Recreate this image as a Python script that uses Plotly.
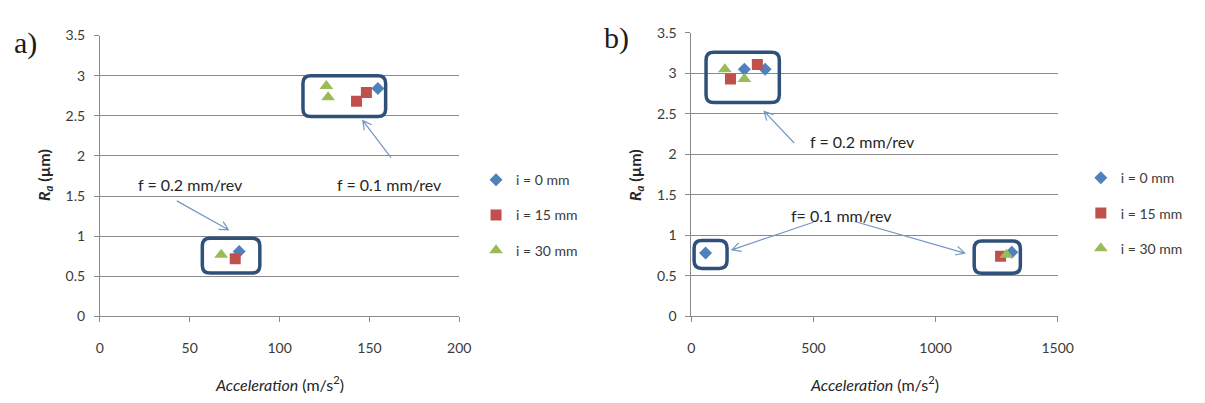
import math
import plotly.graph_objects as go

# ---------------- data ----------------
series_names = ["i = 0 mm", "i = 15 mm", "i = 30 mm"]

# (a) acceleration (m/s^2) and Ra (um)
a_acc_0 = [154.7, 77.5]
a_ra_0 = [2.84, 0.81]
a_acc_15 = [142.8, 148.3, 75.3]
a_ra_15 = [2.68, 2.79, 0.72]
a_acc_30 = [126.0, 127.0, 67.5]
a_ra_30 = [2.87, 2.73, 0.77]

# (b) acceleration (m/s^2) and Ra (um)
b_acc_0 = [217.0, 302.0, 58.0, 1312.0]
b_ra_0 = [3.05, 3.05, 0.78, 0.79]
b_acc_15 = [160.0, 270.0, 1266.0]
b_ra_15 = [2.93, 3.11, 0.74]
b_acc_30 = [137.0, 217.0, 1290.0]
b_ra_30 = [3.05, 2.93, 0.76]

x_ticks_a = [0, 50, 100, 150, 200]
x_ticks_b = [0, 500, 1000, 1500]
y_ticks = [0, 0.5, 1, 1.5, 2, 2.5, 3, 3.5]

# ---------------- style ----------------
W, H = 1205, 403
BLUE, RED, GREEN = "#4f81bd", "#c0504d", "#9bbb59"
GRID = "#8a8a8a"
TXT = "#3a3a3a"
BOX = "#2f5179"
ARROW = "#7596c0"
FONT = "Lato, 'Open Sans', sans-serif"

# plot areas in pixels: (left, right, top, bottom)
AREA_A = (97.5, 463.0, 27.7, 321.0)
AREA_B = (699.0, 1071.5, 25.0, 320.7)
X_RANGE_A = (0, 200)
X_RANGE_B = (0, 1500)
Y_RANGE = (0, 3.5)


def scales(area, xr):
    l, r, t, b = area
    return (r - l) / (xr[1] - xr[0]), (b - t) / (Y_RANGE[1] - Y_RANGE[0])


SC_A = scales(AREA_A, X_RANGE_A)
SC_B = scales(AREA_B, X_RANGE_B)

fig = go.Figure()

symbols = ["diamond", "square", "triangle-up"]
sizes = [10, 11, 12]
colors = [BLUE, RED, GREEN]

panel_a = [(a_acc_0, a_ra_0), (a_acc_15, a_ra_15), (a_acc_30, a_ra_30)]
panel_b = [(b_acc_0, b_ra_0), (b_acc_15, b_ra_15), (b_acc_30, b_ra_30)]

for k, (xs, ys) in enumerate(panel_a):
    fig.add_trace(go.Scatter(
        x=xs, y=ys, mode="markers", name=series_names[k],
        marker=dict(symbol=symbols[k], size=sizes[k], color=colors[k], line=dict(width=0)),
        xaxis="x", yaxis="y", legend="legend", legendgroup="a%d" % k))
for k, (xs, ys) in enumerate(panel_b):
    fig.add_trace(go.Scatter(
        x=xs, y=ys, mode="markers", name=series_names[k],
        marker=dict(symbol=symbols[k], size=sizes[k], color=colors[k], line=dict(width=0)),
        xaxis="x2", yaxis="y2", legend="legend2", legendgroup="b%d" % k))


def rounded_box(x0, x1, y0, y1, sc, xref, yref, r=8):
    rx, ry = r / sc[0], r / sc[1]
    p = (f"M {x0+rx},{y1} L {x1-rx},{y1} Q {x1},{y1} {x1},{y1-ry} "
         f"L {x1},{y0+ry} Q {x1},{y0} {x1-rx},{y0} "
         f"L {x0+rx},{y0} Q {x0},{y0} {x0},{y0+ry} "
         f"L {x0},{y1-ry} Q {x0},{y1} {x0+rx},{y1} Z")
    fig.add_shape(type="path", path=p, xref=xref, yref=yref,
                  line=dict(color=BOX, width=3.5), fillcolor="rgba(0,0,0,0)", layer="above")


def open_arrow(xs, ys, xt, yt, sc, xref, yref, head=10, ang=28):
    # arrow shaft plus an open V head, built in pixel space
    dx, dy = (xs - xt) * sc[0], (ys - yt) * sc[1]
    n = math.hypot(dx, dy)
    ux, uy = dx / n, dy / n
    pts = []
    for s in (1, -1):
        a = math.radians(ang) * s
        hx = ux * math.cos(a) - uy * math.sin(a)
        hy = ux * math.sin(a) + uy * math.cos(a)
        pts.append((xt + hx * head / sc[0], yt + hy * head / sc[1]))
    p = (f"M {xs},{ys} L {xt},{yt} M {pts[0][0]},{pts[0][1]} L {xt},{yt} "
         f"L {pts[1][0]},{pts[1][1]}")
    fig.add_shape(type="path", path=p, xref=xref, yref=yref,
                  line=dict(color=ARROW, width=1.2))


# panel (a) boxes and arrows
rounded_box(113, 159, 2.49, 3.0, SC_A, "x", "y")
rounded_box(57, 89, 0.54, 0.975, SC_A, "x", "y")
open_arrow(162, 1.98, 146.3, 2.44, SC_A, "x", "y")
open_arrow(42.8, 1.44, 71.5, 1.08, SC_A, "x", "y")

# panel (b) boxes and arrows
rounded_box(60, 360, 2.64, 3.26, SC_B, "x2", "y2")
rounded_box(11, 146, 0.59, 0.935, SC_B, "x2", "y2")
rounded_box(1158, 1347, 0.53, 0.93, SC_B, "x2", "y2")
open_arrow(421, 2.14, 298, 2.53, SC_B, "x2", "y2")
open_arrow(499, 1.16, 166, 0.82, SC_B, "x2", "y2")
open_arrow(669, 1.17, 1119, 0.78, SC_B, "x2", "y2")

ann = []
lbl = dict(showarrow=False, font=dict(family=FONT, size=16, color="#262626"))
ann.append(dict(x=50.6, y=1.65, xref="x", yref="y", text="f = 0.2 mm/rev", **lbl))
ann.append(dict(x=161, y=1.65, xref="x", yref="y", text="f = 0.1 mm/rev", **lbl))
ann.append(dict(x=700, y=2.16, xref="x2", yref="y2", text="f = 0.2 mm/rev", **lbl))
ann.append(dict(x=615, y=1.25, xref="x2", yref="y2", text="f= 0.1 mm/rev", **lbl))

# panel letters
for txt, px, py in (("a)", 22, 36), ("b)", 623, 30)):
    ann.append(dict(x=px / W, y=1 - py / H, xref="paper", yref="paper", text=txt,
                    showarrow=False, xanchor="center", yanchor="middle",
                    font=dict(family="'Liberation Serif', 'DejaVu Serif', serif", size=30, color="#1a1a1a")))

# axis titles
for area, xpx in ((AREA_A, 41), (AREA_B, 642)):
    cx = (area[0] + area[1]) / 2
    ann.append(dict(x=cx / W, y=1 - 391 / H, xref="paper", yref="paper",
                    text="<i>Acceleration</i> (m/s<sup>2</sup>)", showarrow=False,
                    xanchor="center", yanchor="middle",
                    font=dict(family=FONT, size=16, color="#262626")))
    ann.append(dict(x=xpx / W, y=1 - 173 / H, xref="paper", yref="paper",
                    text="<b><i>R</i><sub><i>a</i></sub> (µm)</b>", showarrow=False,
                    textangle=-90, xanchor="center", yanchor="middle",
                    font=dict(family=FONT, size=16, color="#262626")))


def xaxis(area, xr, ticks, anchor):
    return dict(domain=[area[0] / W, area[1] / W], range=list(xr), anchor=anchor,
                tickvals=ticks, showgrid=False, zeroline=False, showline=True,
                linecolor=GRID, linewidth=1, ticks="outside", ticklen=5, tickcolor=GRID,
                ticklabelstandoff=14, tickfont=dict(family=FONT, size=14, color=TXT),
                fixedrange=True)


def yaxis(area, anchor):
    return dict(domain=[1 - area[3] / H, 1 - area[2] / H], range=list(Y_RANGE), anchor=anchor,
                tickvals=y_ticks, showgrid=True, gridcolor=GRID, gridwidth=1,
                zeroline=False, showline=True, linecolor=GRID, linewidth=1,
                ticks="outside", ticklen=5, tickcolor=GRID, ticklabelstandoff=6,
                tickfont=dict(family=FONT, size=14, color=TXT), fixedrange=True)


leg = dict(font=dict(family=FONT, size=14, color=TXT), bgcolor="rgba(0,0,0,0)",
           tracegroupgap=14, xanchor="left", yanchor="top", itemsizing="trace")

fig.update_layout(
    width=W, height=H, margin=dict(l=0, r=0, t=0, b=0),
    paper_bgcolor="white", plot_bgcolor="white",
    xaxis=xaxis(AREA_A, X_RANGE_A, x_ticks_a, "y"),
    yaxis=yaxis(AREA_A, "x"),
    xaxis2=xaxis(AREA_B, X_RANGE_B, x_ticks_b, "y2"),
    yaxis2=yaxis(AREA_B, "x2"),
    legend=dict(x=480 / W, y=1 - 162 / H, **leg),
    legend2=dict(x=1095 / W, y=1 - 160 / H, **leg),
    annotations=ann,
    showlegend=True,
)

fig.write_html("out.html")
